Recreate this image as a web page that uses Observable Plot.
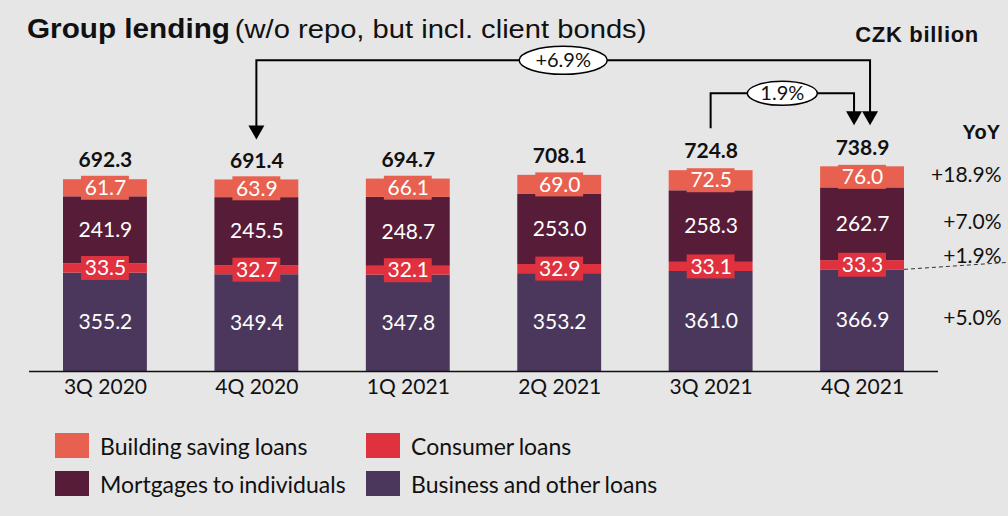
<!DOCTYPE html>
<html><head><meta charset="utf-8">
<script src="https://cdn.jsdelivr.net/npm/d3@7"></script>
<script src="https://cdn.jsdelivr.net/npm/@observablehq/plot@0.6"></script>
<style>
body{margin:0;background:#fff;}
#wrap{position:relative;width:1008px;height:516px;background:#e6e6e6;overflow:hidden;color:#111;}
#title{position:absolute;left:27px;top:12px;font-family:"Liberation Sans",Arial,sans-serif;white-space:nowrap;line-height:34px;transform-origin:0 50%;transform:scaleX(1.1);}
#title b{font-size:27px;font-weight:bold;}
#title span{font-size:26.5px;}
#unit{position:absolute;right:29px;top:22px;font-family:"Liberation Sans",Arial,sans-serif;font-weight:bold;font-size:22px;letter-spacing:0.7px;line-height:26px;}
#yoy{position:absolute;right:8px;top:119px;font-family:"Liberation Sans",Arial,sans-serif;font-weight:bold;font-size:20px;line-height:26px;}
#chart{position:absolute;left:0;top:44px;}
.lg{position:absolute;font-family:Lato,sans-serif;font-size:23px;letter-spacing:0px;word-spacing:-1px;line-height:28px;white-space:nowrap;}
.sw{position:absolute;width:34px;height:25px;}
</style></head>
<body>
<div id="wrap">
  <div id="title"><b>Group lending</b> <span>(w/o repo, but incl. client bonds)</span></div>
  <div id="unit">CZK billion</div>
  <div id="yoy">YoY</div>
  <div id="chart"></div>
  <div id="legend"></div>
</div>
<script>
const quarters = ["3Q 2020","4Q 2020","1Q 2021","2Q 2021","3Q 2021","4Q 2021"];
const business = [355.2, 349.4, 347.8, 353.2, 361.0, 366.9];
const consumer = [33.5, 32.7, 32.1, 32.9, 33.1, 33.3];
const mortgages = [241.9, 245.5, 248.7, 253.0, 258.3, 262.7];
const buildingSaving = [61.7, 63.9, 66.1, 69.0, 72.5, 76.0];
const totals = [692.3, 691.4, 694.7, 708.1, 724.8, 738.9];
const seriesNames = ["Business and other loans","Consumer loans","Mortgages to individuals","Building saving loans"];
const seriesColors = ["#4b375b","#e0313f","#561c38","#e8604f"];
const yoyLabels = ["+5.0%","+1.9%","+7.0%","+18.9%"];
const qoqLabel = "1.9%";
const yoyTotalLabel = "+6.9%";
const legendOrder = [["Building saving loans","Consumer loans"],["Mortgages to individuals","Business and other loans"]];

const seriesValues = [business, consumer, mortgages, buildingSaving];
const rows = [];
quarters.forEach((q, i) => {
  let acc = 0;
  seriesValues.forEach((vals, s) => {
    const v = vals[i];
    rows.push({q, series: seriesNames[s], value: v, y1: acc, y2: acc + v, mid: acc + v / 2, idx: i, s});
    acc += v;
  });
});
const boxRows = rows.filter(d => d.s === 1 || d.s === 3);
const totalRows = quarters.map((q, i) => ({q, total: totals[i]}));
const last = quarters[quarters.length - 1];
const lastRows = rows.filter(d => d.q === last).map((d, k) => ({...d, label: yoyLabels[k]}));

const chart = Plot.plot({
  width: 1008, height: 370,
  marginLeft: 29, marginRight: 70, marginTop: 50, marginBottom: 43,
  x: {domain: quarters, paddingInner: 0.446, paddingOuter: 0.2246, round: false, axis: null},
  y: {domain: [0, 1000], axis: null},
  color: {domain: seriesNames, range: seriesColors},
  style: {background: "transparent", fontFamily: "Lato, sans-serif", overflow: "visible"},
  marks: [
    Plot.barY(rows, {x: "q", y1: "y1", y2: "y2", fill: "series"}),
    Plot.barY(boxRows, {x: "q", y1: "mid", y2: "mid", fill: "series", insetLeft: 18, insetRight: 18, insetTop: -12, insetBottom: -12}),
    Plot.text(rows, {x: "q", y: "mid", text: d => d.value.toFixed(1), fill: "white", fontSize: 21}),
    Plot.text(totalRows, {x: "q", y: "total", text: d => d.total.toFixed(1), dy: -19, fontSize: 21, fontWeight: "bold", fill: "#111"}),
    Plot.ruleY([0], {stroke: "#111", strokeWidth: 1.5}),
    Plot.text(quarters, {x: d => d, frameAnchor: "bottom", dy: 22, fontSize: 21, fill: "#111"}),
    Plot.text(lastRows.filter(d => d.s !== 1), {x: "q", y: "mid", text: "label", dx: 139, dy: -2, textAnchor: "end", fontSize: 21, fill: "#111"}),
    Plot.text(lastRows.filter(d => d.s === 1), {x: "q", y: "mid", text: "label", dx: 139, dy: -9, textAnchor: "end", fontSize: 21, fill: "#111"})
  ]
});
document.getElementById("chart").appendChild(chart);

// annotations via the plot's scales
const xs = chart.scale("x"), ys = chart.scale("y");
const bw = xs.bandwidth;
const cx = q => xs.apply(q) + bw / 2;
const svg = d3.select(chart);
const g = svg.append("g");
const topOf = i => ys.apply(totals[i]);
const iLast = quarters.length - 1;
const yearY = topOf(iLast) - 106;
const qoqY = topOf(iLast) - 73;
const tipLeft = topOf(1) - 40;
const tipRight = topOf(iLast) - 41;
const startQ = topOf(iLast - 1) - 42;
const xL = cx(quarters[1]), xR = cx(last) + 8, xR2 = cx(last) - 8, xQ = cx(quarters[iLast - 1]);

function arrowHead(x, tip) {
  g.append("path").attr("d", `M${x-8},${tip-14}L${x+8},${tip-14}L${x},${tip}Z`).attr("fill", "#000");
}
g.append("path").attr("d", `M${xL},${tipLeft-12}V${yearY}H${xR}V${tipRight-12}`)
  .attr("fill", "none").attr("stroke", "#000").attr("stroke-width", 2);
g.append("path").attr("d", `M${xQ},${startQ}V${qoqY}H${xR2}V${tipRight-12}`)
  .attr("fill", "none").attr("stroke", "#000").attr("stroke-width", 2);
arrowHead(xL, tipLeft); arrowHead(xR, tipRight); arrowHead(xR2, tipRight);

function bubble(x, y, rx, ry, txt) {
  g.append("ellipse").attr("cx", x).attr("cy", y).attr("rx", rx).attr("ry", ry)
    .attr("fill", "#fff").attr("stroke", "#000").attr("stroke-width", 1.5);
  g.append("text").attr("x", x).attr("y", y).attr("dy", "0.35em").attr("text-anchor", "middle")
    .attr("font-family", "Lato, sans-serif").attr("font-size", 20).attr("fill", "#111").text(txt);
}
bubble((xL + xR) / 2, yearY, 44, 14, yoyTotalLabel);
bubble((xQ + xR2) / 2, qoqY, 35, 12, qoqLabel);

// dashed leader to consumer YoY label
const yB = ys.apply(business[iLast]);
g.append("line").attr("x1", cx(last) + bw / 2).attr("y1", yB).attr("x2", 1008).attr("y2", yB - 7)
  .attr("stroke", "#333").attr("stroke-width", 1).attr("stroke-dasharray", "4,3");

// legend
const legend = document.getElementById("legend");
const colX = [[55, 100], [366, 411]];
const rowY = [433, 471];
legendOrder.forEach((row, r) => row.forEach((name, c) => {
  const sw = document.createElement("div");
  sw.className = "sw";
  sw.style.left = colX[c][0] + "px"; sw.style.top = rowY[r] + "px";
  sw.style.background = seriesColors[seriesNames.indexOf(name)];
  legend.appendChild(sw);
  const t = document.createElement("div");
  t.className = "lg";
  t.style.left = colX[c][1] + "px"; t.style.top = (rowY[r] - 1) + "px";
  t.textContent = name;
  legend.appendChild(t);
}));
</script>
</body></html>
